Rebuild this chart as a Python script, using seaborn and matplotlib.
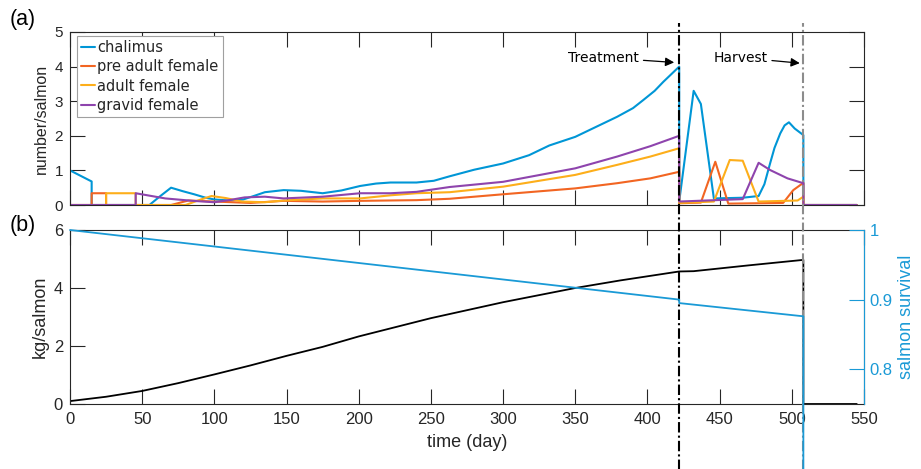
import matplotlib
matplotlib.use("Agg")
import matplotlib.pyplot as plt
import seaborn as sns

# ---- data ----
# (a) lice per salmon
chalimus_day = [0, 15, 15, 55, 62, 70, 78, 86, 94, 100, 110, 120, 128, 135, 148, 160, 175, 188,
                201, 212, 222, 240, 252, 263, 280, 300, 318, 332, 350, 365, 379, 390, 397, 405,
                411, 417, 422, 422, 432, 437, 446, 456, 466, 477, 481, 485, 488, 492, 495, 498,
                502, 508, 508, 545]
chalimus = [1.0, 0.68, 0, 0, 0.24, 0.5, 0.4, 0.31, 0.21, 0.16, 0.13, 0.16, 0.27, 0.37, 0.43,
            0.41, 0.34, 0.42, 0.55, 0.62, 0.65, 0.65, 0.7, 0.83, 1.02, 1.2, 1.44, 1.72, 1.97,
            2.27, 2.55, 2.8, 3.03, 3.3, 3.56, 3.8, 4.0, 0.1, 3.3, 2.92, 0.19, 0.2, 0.21, 0.26,
            0.6, 1.21, 1.65, 2.07, 2.3, 2.39, 2.21, 2.02, 0, 0]

preadult_day = [0, 15, 15, 25, 25, 70, 82, 100, 125, 148, 175, 201, 240, 263, 300, 350, 379,
                402, 422, 422, 437, 447, 456, 494, 501, 508, 508, 545]
preadult = [0, 0, 0.34, 0.34, 0, 0, 0.13, 0.1, 0.06, 0.12, 0.1, 0.12, 0.14, 0.18, 0.31, 0.48,
            0.63, 0.77, 0.96, 0.05, 0.07, 1.25, 0.04, 0.06, 0.43, 0.64, 0, 0]

adult_day = [0, 25, 25, 45.5, 45.5, 80, 90, 98, 108, 119, 135, 148, 175, 201, 222, 240, 263,
             300, 350, 379, 402, 422, 422, 446, 457, 466, 477, 504, 508, 508, 545]
adult = [0, 0, 0.34, 0.34, 0, 0, 0.15, 0.26, 0.2, 0.1, 0.08, 0.13, 0.19, 0.19, 0.28, 0.34,
         0.37, 0.53, 0.87, 1.16, 1.4, 1.64, 0.06, 0.1, 1.3, 1.28, 0.1, 0.13, 0.24, 0, 0]

gravid_day = [0, 45.5, 45.5, 66, 85, 100, 110, 121, 135, 148, 175, 201, 222, 240, 263, 300,
              350, 379, 402, 422, 422, 466, 477, 485, 497, 508, 508, 545]
gravid = [0, 0, 0.34, 0.19, 0.12, 0.08, 0.14, 0.22, 0.24, 0.19, 0.24, 0.34, 0.34, 0.38, 0.52,
          0.67, 1.06, 1.4, 1.7, 2.0, 0.1, 0.17, 1.22, 1.01, 0.77, 0.63, 0, 0]

stage_labels = ["chalimus", "pre adult female", "adult female", "gravid female"]
stage_colors = ["#0096d6", "#f26522", "#fdae1a", "#8e44ad"]

# (b) weight and survival
weight_day = [0, 25, 50, 75, 100, 125, 150, 175, 200, 250, 300, 350, 381, 422, 432, 470, 508, 508, 545]
weight = [0.1, 0.25, 0.45, 0.72, 1.02, 1.33, 1.66, 1.97, 2.33, 2.96, 3.51, 4.0, 4.26, 4.57, 4.58,
          4.78, 4.97, 0, 0]

survival_day = [0, 422, 422, 508, 508]
survival = [1.0, 0.9, 0.895, 0.876, 0.0]

treatment_day = 422
harvest_day = 508

dark = "#262626"
blue = "#1a9ad6"

sns.set_style("ticks")
plt.rcParams['font.family'] = ['Liberation Sans', 'DejaVu Sans']

fig = plt.figure(figsize=(9.21, 4.69), dpi=100)
ax1 = fig.add_axes([70/921, 1-205/469, 794/921, 173/469])
ax2 = fig.add_axes([70/921, 1-404/469, 794/921, 174/469])


def style_axes(ax, size):
    for s in ax.spines.values():
        s.set_color(dark)
        s.set_linewidth(0.8)
    ax.tick_params(direction='in', length=11, width=0.8, color=dark, labelcolor=dark,
                   labelsize=size, top=True, pad=5)
    ax.tick_params(axis='x', pad=6)


# ---- panel (a) ----
series = [(chalimus_day, chalimus), (preadult_day, preadult), (adult_day, adult), (gravid_day, gravid)]
for (d, v), lab, col in zip(series, stage_labels, stage_colors):
    sns.lineplot(x=d, y=v, ax=ax1, color=col, linewidth=1.5, label=lab,
                 estimator=None, sort=False)

ax1.set_xlim(0, 550)
ax1.set_ylim(0, 5)
ax1.set_xticks(range(0, 551, 50))
ax1.set_xticklabels([])
ax1.set_yticks([0, 1, 2, 3, 4, 5])
style_axes(ax1, 11)
ax1.tick_params(right=True)
ax1.set_ylabel("number/salmon", fontsize=11.5, color=dark)
ax1.yaxis.set_label_coords(-0.027, 0.5)

leg = ax1.legend(loc='upper left', bbox_to_anchor=(7/794, 1-4/173), borderaxespad=0,
                 fancybox=False, framealpha=1, edgecolor='#a0a0a0',
                 prop={'family': 'DejaVu Sans', 'size': 10.5},
                 handlelength=0.9, handletextpad=0.2, labelspacing=0.28, borderpad=0.3)
leg.get_frame().set_linewidth(0.8)

arrow = dict(arrowstyle='-|>', color='black', lw=0.9, mutation_scale=13, shrinkA=1, shrinkB=0)
ax1.annotate("Treatment", xy=(418.5, 4.12), xytext=(394, 4.26), ha='right', va='center',
             fontsize=10, family='DejaVu Sans', color='black', arrowprops=arrow)
ax1.annotate("Harvest", xy=(505.5, 4.1), xytext=(483, 4.26), ha='right', va='center',
             fontsize=10, family='DejaVu Sans', color='black', arrowprops=arrow)

# ---- panel (b) ----
sns.lineplot(x=weight_day, y=weight, ax=ax2, color='black', linewidth=1.3,
             estimator=None, sort=False)
ax2.set_xlim(0, 550)
ax2.set_ylim(0, 6)
ax2.set_xticks(range(0, 551, 50))
ax2.set_yticks([0, 2, 4, 6])
style_axes(ax2, 12)
ax2.tick_params(right=False)
ax2.set_xlabel("time (day)", fontsize=13, color=dark, labelpad=5)
ax2.set_ylabel("kg/salmon", fontsize=13, color=dark)
ax2.yaxis.set_label_coords(-0.027, 0.5)

ax3 = ax2.twinx()
sns.lineplot(x=survival_day, y=survival, ax=ax3, color=blue, linewidth=1.3,
             estimator=None, sort=False)
ax3.lines[-1].set_clip_on(False)
ax3.set_ylim(0.75, 1)
ax3.set_yticks([0.8, 0.9, 1.0])
ax3.set_yticklabels(["0.8", "0.9", "1"])
for name, s in ax3.spines.items():
    s.set_visible(name == 'right')
ax3.spines['right'].set_color(blue)
ax3.spines['right'].set_linewidth(0.8)
ax3.tick_params(axis='y', direction='in', length=11, width=0.8, color=blue, labelcolor=blue,
                labelsize=12, pad=4)
ax3.set_ylabel("salmon survival", fontsize=13, color=blue)

# treatment / harvest markers spanning both panels
for ax, lo, hi in [(ax1, -0.16, 1.05), (ax2, -0.38, 1.0)]:
    ax.axvline(treatment_day, ymin=lo, ymax=hi, color='black', lw=1.5,
               linestyle=(0, (5, 1.5, 1, 1.5)), clip_on=False, zorder=5)
    ax.axvline(harvest_day, ymin=lo, ymax=hi, color='#8c8c8c', lw=1.5,
               linestyle=(0, (5, 1.5, 1, 1.5)), clip_on=False, zorder=5)

fig.text(10/921, 1-19/469, "(a)", fontsize=15.5, color='black', va='center', ha='left')
fig.text(10/921, 1-225/469, "(b)", fontsize=15.5, color='black', va='center', ha='left')

plt.savefig("out.png", dpi=100)
